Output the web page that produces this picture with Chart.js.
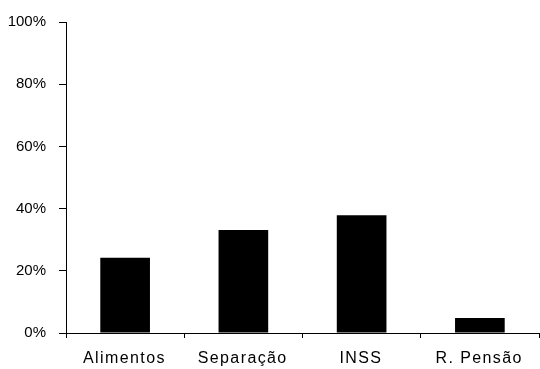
<!DOCTYPE html>
<html>
<head>
<meta charset="utf-8">
<script src="https://cdn.jsdelivr.net/npm/chart.js@4/dist/chart.umd.min.js"></script>
<style>
  body { margin: 0; background: #fff; }
  #wrap { width: 540px; height: 369px; }
</style>
</head>
<body>
<div id="wrap"><canvas id="barChart" width="540" height="369"></canvas></div>
<script>
// values (percent)
var categories = ['Alimentos', 'Separação', 'INSS', 'R. Pensão'];
var shares = [24.2, 33.1, 37.9, 4.8];
var yTicks = [0, 20, 40, 60, 80, 100];

var family = "'Liberation Sans', Arial, sans-serif";

var ctx = document.getElementById('barChart');
var chart = new Chart(ctx, {
  type: 'bar',
  data: {
    labels: categories,
    datasets: [{
      label: 'Share',
      data: shares,
      backgroundColor: '#000',
      borderWidth: 0,
      barPercentage: 0.42,
      categoryPercentage: 1
    }]
  },
  options: {
    responsive: false,
    animation: false,
    layout: { padding: { top: 20, right: 1, left: 0, bottom: 0 } },
    plugins: {
      legend: { display: false },
      tooltip: { enabled: false }
    },
    scales: {
      x: {
        grid: {
          offset: true,
          drawOnChartArea: false,
          drawTicks: true,
          tickLength: 5,
          color: '#000'
        },
        border: { display: true, color: '#000', width: 1 },
        ticks: { color: '#000', font: { family: family, size: 16 }, padding: 11, maxRotation: 0 },
        afterFit: function(scale) {
          scale.height = 36;
          // the scanned labels are spaced out a bit, widen them
          if (!scale._spaced) {
            var orig = scale.drawLabels;
            scale.drawLabels = function(area) {
              this.ctx.save();
              this.ctx.letterSpacing = '1.4px';
              this.ctx.translate(-0.7, 0);
              orig.call(this, area);
              this.ctx.restore();
            };
            scale._spaced = true;
          }
        }
      },
      y: {
        min: 0,
        max: 100,
        afterBuildTicks: function(scale) {
          scale.ticks = yTicks.map(function(v) { return { value: v }; });
        },
        grid: {
          drawOnChartArea: false,
          drawTicks: true,
          tickLength: 7,
          color: '#000'
        },
        border: { display: true, color: '#000', width: 1 },
        ticks: {
          color: '#000',
          font: { family: family, size: 15 },
          padding: 13,
          callback: function(v) { return v + '%'; }
        },
        afterFit: function(scale) { scale.width = 66; }
      }
    }
  }
});
</script>
</body>
</html>
